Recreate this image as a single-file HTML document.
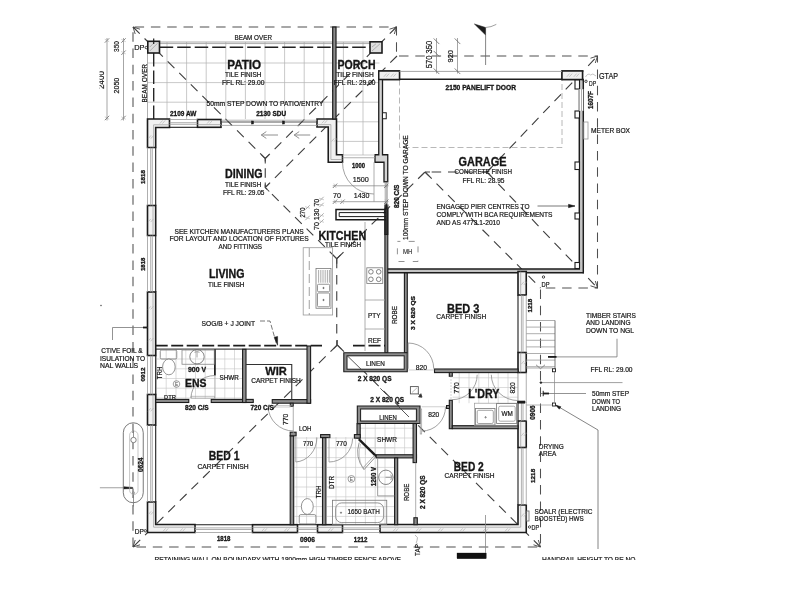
<!DOCTYPE html>
<html><head><meta charset="utf-8"><title>Floor plan</title>
<style>
html,body{margin:0;padding:0;background:#fff;}
body{width:800px;height:600px;overflow:hidden;position:relative;}
svg{position:absolute;left:0;top:0;display:block;}
svg text{font-family:"Liberation Sans",sans-serif;}
</style></head><body>
<svg width="800" height="600" viewBox="0 0 800 600">
<defs><clipPath id="cp"><rect x="99.5" y="0" width="700" height="559.9"/></clipPath></defs>
<rect x="0" y="0" width="800" height="600" fill="#fff"/>
<g clip-path="url(#cp)" style="filter:blur(0.45px)">
<path d="M167.0 42V119M186.6 42V119M206.2 42V119M225.8 42V119M245.4 42V119M265.0 42V119M284.6 42V119M304.2 42V119M323.8 42V119M147.5 43.4H332.5M147.5 63.0H332.5M147.5 82.6H332.5M147.5 102.2H332.5" fill="none" stroke="#b2b2b2" stroke-width="0.7" />
<path d="M343.4 42V155M363.0 42V155M336 43.4H379.5M336 63.0H379.5M336 82.6H379.5M336 102.2H379.5M336 121.8H379.5M336 141.4H379.5" fill="none" stroke="#b2b2b2" stroke-width="0.7" />
<line x1="147.5" y1="42" x2="379.5" y2="42" stroke="#9a9a9a" stroke-width="0.8" />
<line x1="159.5" y1="43.6" x2="370" y2="43.6" stroke="#9a9a9a" stroke-width="0.6" />
<line x1="147.5" y1="53" x2="147.5" y2="119" stroke="#9a9a9a" stroke-width="0.8" />
<path d="M156.5 349.5V398.75M166.2 349.5V398.75M176.0 349.5V398.75M185.8 349.5V398.75M195.5 349.5V398.75M205.2 349.5V398.75M215.0 349.5V398.75M224.8 349.5V398.75M234.5 349.5V398.75M155.7 359.0H243.5M155.7 368.8H243.5M155.7 378.5H243.5M155.7 388.2H243.5M155.7 398.0H243.5" fill="none" stroke="#c4c4c4" stroke-width="0.6" />
<path d="M296.8 437V525M306.6 437V525M316.4 437V525M294.5 438.0H322.5M294.5 447.8H322.5M294.5 457.6H322.5M294.5 467.4H322.5M294.5 477.2H322.5M294.5 487.0H322.5M294.5 496.8H322.5M294.5 506.6H322.5M294.5 516.4H322.5" fill="none" stroke="#c4c4c4" stroke-width="0.6" />
<path d="M336.0 437V525M345.8 437V525M355.6 437V525M365.4 437V525M375.2 437V525M385.0 437V525M327 438.0H394.5M327 447.8H394.5M327 457.6H394.5M327 467.4H394.5M327 477.2H394.5M327 487.0H394.5M327 496.8H394.5M327 506.6H394.5M327 516.4H394.5" fill="none" stroke="#c4c4c4" stroke-width="0.6" />
<path d="M365.4 423.75V454.75M375.2 423.75V454.75M385.0 423.75V454.75M394.8 423.75V454.75M404.6 423.75V454.75M360.2 438.0H413.1M360.2 447.8H413.1M360.2 428.2H413.1" fill="none" stroke="#c4c4c4" stroke-width="0.6" />
<path d="M459.2 372.5V403.2M469.0 372.5V403.2M478.8 372.5V403.2M488.5 372.5V403.2M498.2 372.5V403.2M508.0 372.5V403.2M517.8 372.5V403.2M452.5 377.8H518M452.5 387.5H518M452.5 397.2H518" fill="none" stroke="#c4c4c4" stroke-width="0.6" />
<path d="M133 547V27H396.5V56H597.5V288H540.5V547H133" fill="none" stroke="#505050" stroke-width="1.05" stroke-dasharray="9.5 6.8"/>
<path d="M133 27L265.25 158.5M396.5 27L265.25 158.5V187.5M397 56L265.25 187.5L336.75 258.75M336.75 258.75L425 172H487M487 172L597.5 56M487 172L597.5 288M425 172L540.5 288M336.75 258.75V345M337.25 345L133 547M337.25 345L540.5 547" fill="none" stroke="#3d3d3d" stroke-width="1.1" stroke-dasharray="9.5 6.8"/>
<path d="M265.25 158.5l-4 -4M265.25 158.5l4 -4M265.25 158.5v5M265.25 187.5v-5M265.25 187.5l4 -4M265.25 187.5l4 4M336.75 258.75l-4 -4M336.75 258.75l4 -4M336.75 258.75v5M337.25 345v-5M337.25 345l-4 4M337.25 345l4 4M425 172l-4 4M425 172l4 4M425 172h5M487 172h-5M487 172l4 -4M487 172l4 4" fill="none" stroke="#444" stroke-width="1.05" />
<path d="M133 27l7 2.2M133 27l2.2 7M396.5 27l-7 2.2M396.5 27l-2.2 7M133 547l7 -2.2M133 547l2.2 -7M540.5 547l-7 -2.2M540.5 547l-2.2 -7M597.5 56l-7 2.2M597.5 56l-2.2 7M597.5 288l-7 -2.2M597.5 288l-2.2 -7" fill="none" stroke="#444" stroke-width="0.9" />
<path d="M153.7 53V119M159.7 47.2H370" fill="none" stroke="#222" stroke-width="1.35" stroke-dasharray="13.5 4"/>
<path d="M399.5 79.5V147.5H562V79.5" fill="none" stroke="#b0b0b0" stroke-width="0.9" stroke-dasharray="6 3"/>
<path d="M147.5 119H169.5V127.5H155.7V147.5H147.5Z" fill="#f1f1f1" stroke="#1c1c1c" stroke-width="1.6" />
<path d="M169.5 124.8H153.6V147.5" fill="none" stroke="#9a9a9a" stroke-width="0.7" />
<path d="M159.8 123.6L162.6 120.4M162.4 123.6L165.2 120.4" fill="none" stroke="#aaa" stroke-width="0.6" />
<path d="M148.3 138.6L151.1 135.4M150.9 138.6L153.7 135.4" fill="none" stroke="#aaa" stroke-width="0.6" />
<rect x="147.5" y="205.5" width="8.2" height="30.0" fill="#f1f1f1" stroke="#1c1c1c" stroke-width="1.6" />
<line x1="153.0" y1="205.5" x2="153.0" y2="235.5" stroke="#9a9a9a" stroke-width="0.7" />
<path d="M148.05 222.1L150.85 218.9M150.65 222.1L153.45 218.9" fill="none" stroke="#aaa" stroke-width="0.6" />
<rect x="147.5" y="292" width="8.2" height="63.5" fill="#f1f1f1" stroke="#1c1c1c" stroke-width="1.6" />
<line x1="153.0" y1="292" x2="153.0" y2="355.5" stroke="#9a9a9a" stroke-width="0.7" />
<path d="M148.05 309.475L150.85 306.275M150.65 309.475L153.45 306.275" fill="none" stroke="#aaa" stroke-width="0.6" />
<path d="M148.05 341.225L150.85 338.025M150.65 341.225L153.45 338.025" fill="none" stroke="#aaa" stroke-width="0.6" />
<rect x="147.5" y="394.5" width="8.2" height="30.5" fill="#f1f1f1" stroke="#1c1c1c" stroke-width="1.6" />
<line x1="153.0" y1="394.5" x2="153.0" y2="425" stroke="#9a9a9a" stroke-width="0.7" />
<path d="M148.05 411.35L150.85 408.15M150.65 411.35L153.45 408.15" fill="none" stroke="#aaa" stroke-width="0.6" />
<path d="M147.5 502H155.7V524.5H195V532.5H147.5Z" fill="#f1f1f1" stroke="#1c1c1c" stroke-width="1.6" />
<path d="M153.6 502V527.2H195" fill="none" stroke="#9a9a9a" stroke-width="0.7" />
<path d="M148.3 514.6L151.1 511.4M150.9 514.6L153.7 511.4" fill="none" stroke="#aaa" stroke-width="0.6" />
<path d="M162.8 531.6L165.6 528.4M165.4 531.6L168.2 528.4" fill="none" stroke="#aaa" stroke-width="0.6" />
<path d="M179.8 531.6L182.6 528.4M182.4 531.6L185.2 528.4" fill="none" stroke="#aaa" stroke-width="0.6" />
<line x1="147.5" y1="147.5" x2="147.5" y2="205.5" stroke="#9a9a9a" stroke-width="0.8" />
<line x1="150.7" y1="147.5" x2="150.7" y2="205.5" stroke="#9a9a9a" stroke-width="0.8" />
<line x1="152.3" y1="147.5" x2="152.3" y2="205.5" stroke="#9a9a9a" stroke-width="0.8" />
<line x1="155.7" y1="147.5" x2="155.7" y2="205.5" stroke="#1c1c1c" stroke-width="1.1" />
<line x1="147.5" y1="235.5" x2="147.5" y2="292" stroke="#9a9a9a" stroke-width="0.8" />
<line x1="150.7" y1="235.5" x2="150.7" y2="292" stroke="#9a9a9a" stroke-width="0.8" />
<line x1="152.3" y1="235.5" x2="152.3" y2="292" stroke="#9a9a9a" stroke-width="0.8" />
<line x1="155.7" y1="235.5" x2="155.7" y2="292" stroke="#1c1c1c" stroke-width="1.1" />
<line x1="147.5" y1="355.5" x2="147.5" y2="394.5" stroke="#9a9a9a" stroke-width="0.8" />
<line x1="150.7" y1="355.5" x2="150.7" y2="394.5" stroke="#9a9a9a" stroke-width="0.8" />
<line x1="152.3" y1="355.5" x2="152.3" y2="394.5" stroke="#9a9a9a" stroke-width="0.8" />
<line x1="155.7" y1="355.5" x2="155.7" y2="394.5" stroke="#1c1c1c" stroke-width="1.1" />
<line x1="147.5" y1="425" x2="147.5" y2="502" stroke="#9a9a9a" stroke-width="0.8" />
<line x1="150.7" y1="425" x2="150.7" y2="502" stroke="#9a9a9a" stroke-width="0.8" />
<line x1="152.3" y1="425" x2="152.3" y2="502" stroke="#9a9a9a" stroke-width="0.8" />
<line x1="155.7" y1="425" x2="155.7" y2="502" stroke="#1c1c1c" stroke-width="1.1" />
<rect x="197.5" y="119.5" width="23.5" height="7.8" fill="#f1f1f1" stroke="#1c1c1c" stroke-width="1.6" />
<line x1="197.5" y1="124.6" x2="221" y2="124.6" stroke="#9a9a9a" stroke-width="0.7" />
<path d="M207.05 123.65L209.85 120.45000000000002M209.65 123.65L212.45 120.45000000000002" fill="none" stroke="#aaa" stroke-width="0.6" />
<path d="M317 119H336.5V154.75H342.5V162.25H328.25V127H317Z" fill="#f1f1f1" stroke="#1c1c1c" stroke-width="1.6" />
<path d="M317 124.6H330.9V159.5H342.5" fill="none" stroke="#9a9a9a" stroke-width="0.7" />
<path d="M321.8 123.39999999999999L324.6 120.2M324.4 123.39999999999999L327.2 120.2" fill="none" stroke="#aaa" stroke-width="0.6" />
<path d="M331.5 141.6L334.3 138.4M334.09999999999997 141.6L336.9 138.4" fill="none" stroke="#aaa" stroke-width="0.6" />
<line x1="169.5" y1="119.5" x2="197.5" y2="119.5" stroke="#9a9a9a" stroke-width="0.8" />
<line x1="169.5" y1="122.7" x2="197.5" y2="122.7" stroke="#9a9a9a" stroke-width="0.8" />
<line x1="169.5" y1="124.3" x2="197.5" y2="124.3" stroke="#9a9a9a" stroke-width="0.8" />
<line x1="169.5" y1="127.3" x2="197.5" y2="127.3" stroke="#1c1c1c" stroke-width="1.1" />
<line x1="221" y1="120.2" x2="317" y2="120.2" stroke="#9a9a9a" stroke-width="0.7" />
<line x1="221" y1="122" x2="317" y2="122" stroke="#444" stroke-width="0.9" />
<line x1="221" y1="125.4" x2="317" y2="125.4" stroke="#9a9a9a" stroke-width="0.8" />
<rect x="251.5" y="121" width="2.0" height="3" fill="#1c1c1c" stroke="#1c1c1c" stroke-width="0.5" />
<rect x="282.5" y="121" width="2.0" height="3" fill="#1c1c1c" stroke="#1c1c1c" stroke-width="0.5" />
<path d="M261.3 135H278M261.3 135L266.3 131.6M261.3 135L266.3 138.4M294.2 135H310.2M294.2 135L299.2 131.6M294.2 135L299.2 138.4" fill="none" stroke="#858585" stroke-width="0.9" />
<rect x="332.7" y="27" width="3.3" height="92" fill="#8c8c8c" stroke="#1c1c1c" stroke-width="1.2" />
<rect x="147.8" y="41.3" width="11.7" height="11.7" fill="#dedede" stroke="#1c1c1c" stroke-width="1.6" />
<path d="M149.8 51L157.5 43.3M149.8 47L153.5 43.3" fill="none" stroke="#9a9a9a" stroke-width="0.7" />
<rect x="370" y="41.8" width="12" height="11.2" fill="#dedede" stroke="#1c1c1c" stroke-width="1.6" />
<path d="M372 51L380 43.8M372 47L376 43.8" fill="none" stroke="#9a9a9a" stroke-width="0.7" />
<line x1="153.7" y1="38.5" x2="153.7" y2="44" stroke="#1c1c1c" stroke-width="1.2" />
<path d="M378.75 71H399.5V79.5H382.5V154.75H387.75V181.75H384V162.25H375V154.75H378.75Z" fill="#d4d4d4" stroke="#1c1c1c" stroke-width="1.3" />
<line x1="342.5" y1="157.75" x2="375" y2="157.75" stroke="#9a9a9a" stroke-width="0.8" />
<line x1="342.5" y1="155" x2="375" y2="155" stroke="#b2b2b2" stroke-width="0.7" />
<rect x="382.5" y="112.75" width="3.75" height="6.0" fill="#fff" stroke="#1c1c1c" stroke-width="1" />
<path d="M562 71H582.5V79.5H583.3V272.7H386.5V268.9H579.3V79.5H562Z" fill="#c4c4c4" stroke="#1c1c1c" stroke-width="1.45" />
<rect x="378.75" y="71" width="20.75" height="8.5" fill="#f1f1f1" stroke="#1c1c1c" stroke-width="1.5" />
<path d="M383.8 76.8L386.6 73.60000000000001M386.4 76.8L389.2 73.60000000000001" fill="none" stroke="#aaa" stroke-width="0.6" />
<path d="M390.8 76.8L393.6 73.60000000000001M393.4 76.8L396.2 73.60000000000001" fill="none" stroke="#aaa" stroke-width="0.6" />
<rect x="562" y="71" width="20.5" height="8.5" fill="#f1f1f1" stroke="#1c1c1c" stroke-width="1.5" />
<path d="M566.8 76.8L569.6 73.60000000000001M569.4 76.8L572.2 73.60000000000001" fill="none" stroke="#aaa" stroke-width="0.6" />
<path d="M573.8 76.8L576.6 73.60000000000001M576.4 76.8L579.2 73.60000000000001" fill="none" stroke="#aaa" stroke-width="0.6" />
<rect x="575" y="80" width="4.5" height="9" fill="#fff" stroke="#1c1c1c" stroke-width="1.1" />
<rect x="575" y="111" width="4.5" height="7" fill="#fff" stroke="#1c1c1c" stroke-width="1.1" />
<rect x="575" y="162" width="4.5" height="7.5" fill="#fff" stroke="#1c1c1c" stroke-width="1.1" />
<rect x="575" y="213" width="4.5" height="6" fill="#fff" stroke="#1c1c1c" stroke-width="1.1" />
<rect x="575" y="262.5" width="4.5" height="6.0" fill="#fff" stroke="#1c1c1c" stroke-width="1.1" />
<rect x="579" y="89.5" width="5.2" height="21.0" fill="#fff" stroke="#fff" stroke-width="0.5" />
<line x1="579.5" y1="89" x2="579.5" y2="111" stroke="#9a9a9a" stroke-width="0.8" />
<line x1="581.5" y1="89" x2="581.5" y2="111" stroke="#9a9a9a" stroke-width="0.8" />
<line x1="583.5" y1="89" x2="583.5" y2="111" stroke="#555" stroke-width="0.9" />
<line x1="399.5" y1="71.4" x2="562" y2="71.4" stroke="#9a9a9a" stroke-width="0.9" />
<line x1="399.5" y1="79.3" x2="562" y2="79.3" stroke="#1c1c1c" stroke-width="1.6" />
<rect x="583.8" y="122" width="4.2" height="17" fill="none" stroke="#9a9a9a" stroke-width="0.8" />
<rect x="384.9" y="209" width="2.9" height="143.75" fill="#8c8c8c" stroke="#1c1c1c" stroke-width="1.1" />
<rect x="384.9" y="205" width="2.9" height="29.5" fill="#333" stroke="#1c1c1c" stroke-width="1.1" />
<path d="M386 209.5H336V219.7H386" fill="none" stroke="#1c1c1c" stroke-width="1.5" />
<path d="M386 212.6H339.2V216.6H386" fill="none" stroke="#1c1c1c" stroke-width="1.0" />
<line x1="385.2" y1="181.75" x2="385.2" y2="209" stroke="#9a9a9a" stroke-width="0.8" />
<line x1="387.3" y1="181.75" x2="387.3" y2="209" stroke="#9a9a9a" stroke-width="0.8" />
<path d="M386.3 203L384.8 209H387.8Z" fill="#1c1c1c" stroke="#1c1c1c" stroke-width="0.5" />
<rect x="518" y="271.5" width="8.25" height="23.5" fill="#f1f1f1" stroke="#1c1c1c" stroke-width="1.6" />
<line x1="520.7" y1="271.5" x2="520.7" y2="295" stroke="#9a9a9a" stroke-width="0.7" />
<path d="M521.275 284.85L524.075 281.65M523.875 284.85L526.6750000000001 281.65" fill="none" stroke="#aaa" stroke-width="0.6" />
<rect x="518" y="352.5" width="8.25" height="20.0" fill="#f1f1f1" stroke="#1c1c1c" stroke-width="1.6" />
<line x1="520.7" y1="352.5" x2="520.7" y2="372.5" stroke="#9a9a9a" stroke-width="0.7" />
<path d="M521.275 364.1L524.075 360.9M523.875 364.1L526.6750000000001 360.9" fill="none" stroke="#aaa" stroke-width="0.6" />
<rect x="518" y="421" width="8.25" height="26.5" fill="#f1f1f1" stroke="#1c1c1c" stroke-width="1.6" />
<line x1="520.7" y1="421" x2="520.7" y2="447.5" stroke="#9a9a9a" stroke-width="0.7" />
<path d="M521.275 435.85L524.075 432.65M523.875 435.85L526.6750000000001 432.65" fill="none" stroke="#aaa" stroke-width="0.6" />
<path d="M518 505H526.25V532.5H380V524.5H518Z" fill="#f1f1f1" stroke="#1c1c1c" stroke-width="1.6" />
<path d="M520.7 505V527.2H380" fill="none" stroke="#9a9a9a" stroke-width="0.7" />
<path d="M521.3 516.6L524.1 513.4M523.9 516.6L526.7 513.4" fill="none" stroke="#aaa" stroke-width="0.6" />
<path d="M392.8 531.6L395.6 528.4M395.4 531.6L398.2 528.4" fill="none" stroke="#aaa" stroke-width="0.6" />
<path d="M415.8 531.6L418.6 528.4M418.4 531.6L421.2 528.4" fill="none" stroke="#aaa" stroke-width="0.6" />
<path d="M437.8 531.6L440.6 528.4M440.4 531.6L443.2 528.4" fill="none" stroke="#aaa" stroke-width="0.6" />
<path d="M459.8 531.6L462.6 528.4M462.4 531.6L465.2 528.4" fill="none" stroke="#aaa" stroke-width="0.6" />
<path d="M482.8 531.6L485.6 528.4M485.4 531.6L488.2 528.4" fill="none" stroke="#aaa" stroke-width="0.6" />
<path d="M504.8 531.6L507.6 528.4M507.4 531.6L510.2 528.4" fill="none" stroke="#aaa" stroke-width="0.6" />
<line x1="518" y1="295" x2="518" y2="352.5" stroke="#1c1c1c" stroke-width="1.1" />
<line x1="521.4" y1="295" x2="521.4" y2="352.5" stroke="#9a9a9a" stroke-width="0.8" />
<line x1="523" y1="295" x2="523" y2="352.5" stroke="#9a9a9a" stroke-width="0.8" />
<line x1="526.25" y1="295" x2="526.25" y2="352.5" stroke="#9a9a9a" stroke-width="0.8" />
<line x1="518" y1="447.5" x2="518" y2="505" stroke="#1c1c1c" stroke-width="1.1" />
<line x1="521.4" y1="447.5" x2="521.4" y2="505" stroke="#9a9a9a" stroke-width="0.8" />
<line x1="523" y1="447.5" x2="523" y2="505" stroke="#9a9a9a" stroke-width="0.8" />
<line x1="526.25" y1="447.5" x2="526.25" y2="505" stroke="#9a9a9a" stroke-width="0.8" />
<line x1="518" y1="402" x2="518" y2="421.2" stroke="#1c1c1c" stroke-width="1.1" />
<line x1="521.4" y1="402" x2="521.4" y2="421.2" stroke="#9a9a9a" stroke-width="0.8" />
<line x1="523" y1="402" x2="523" y2="421.2" stroke="#9a9a9a" stroke-width="0.8" />
<line x1="526.25" y1="402" x2="526.25" y2="421.2" stroke="#9a9a9a" stroke-width="0.8" />
<line x1="518" y1="372.5" x2="518" y2="403" stroke="#9a9a9a" stroke-width="0.8" />
<line x1="526.25" y1="372.5" x2="526.25" y2="403" stroke="#9a9a9a" stroke-width="0.8" />
<path d="M517.5 401H525V403.2H517.5Z" fill="#1c1c1c" stroke="#1c1c1c" stroke-width="0.6" />
<rect x="252.5" y="524.7" width="45.0" height="7.8" fill="#f1f1f1" stroke="#1c1c1c" stroke-width="1.6" />
<line x1="252.5" y1="527.4000000000001" x2="297.5" y2="527.4000000000001" stroke="#9a9a9a" stroke-width="0.7" />
<path d="M261.55 531.5500000000001L264.35 528.35M264.15 531.5500000000001L266.95 528.35" fill="none" stroke="#aaa" stroke-width="0.6" />
<path d="M284.05 531.5500000000001L286.85 528.35M286.65 531.5500000000001L289.45 528.35" fill="none" stroke="#aaa" stroke-width="0.6" />
<rect x="317.5" y="524.7" width="25.0" height="7.8" fill="#f1f1f1" stroke="#1c1c1c" stroke-width="1.6" />
<line x1="317.5" y1="527.4000000000001" x2="342.5" y2="527.4000000000001" stroke="#9a9a9a" stroke-width="0.7" />
<path d="M327.8 531.5500000000001L330.6 528.35M330.4 531.5500000000001L333.2 528.35" fill="none" stroke="#aaa" stroke-width="0.6" />
<line x1="195" y1="524.7" x2="252.5" y2="524.7" stroke="#1c1c1c" stroke-width="1.1" />
<line x1="195" y1="527.9000000000001" x2="252.5" y2="527.9000000000001" stroke="#9a9a9a" stroke-width="0.8" />
<line x1="195" y1="529.5" x2="252.5" y2="529.5" stroke="#9a9a9a" stroke-width="0.8" />
<line x1="195" y1="532.5" x2="252.5" y2="532.5" stroke="#9a9a9a" stroke-width="0.8" />
<line x1="297.5" y1="524.7" x2="317.5" y2="524.7" stroke="#1c1c1c" stroke-width="1.1" />
<line x1="297.5" y1="527.9000000000001" x2="317.5" y2="527.9000000000001" stroke="#9a9a9a" stroke-width="0.8" />
<line x1="297.5" y1="529.5" x2="317.5" y2="529.5" stroke="#9a9a9a" stroke-width="0.8" />
<line x1="297.5" y1="532.5" x2="317.5" y2="532.5" stroke="#9a9a9a" stroke-width="0.8" />
<line x1="342.5" y1="524.7" x2="380" y2="524.7" stroke="#1c1c1c" stroke-width="1.1" />
<line x1="342.5" y1="527.9000000000001" x2="380" y2="527.9000000000001" stroke="#9a9a9a" stroke-width="0.8" />
<line x1="342.5" y1="529.5" x2="380" y2="529.5" stroke="#9a9a9a" stroke-width="0.8" />
<line x1="342.5" y1="532.5" x2="380" y2="532.5" stroke="#9a9a9a" stroke-width="0.8" />
<line x1="155.7" y1="349.1" x2="307" y2="349.1" stroke="#1c1c1c" stroke-width="1.0" />
<line x1="155.7" y1="345.7" x2="322" y2="345.7" stroke="#1c1c1c" stroke-width="1.7" stroke-dasharray="12 3.5"/>
<line x1="353" y1="345.7" x2="385" y2="345.7" stroke="#1c1c1c" stroke-width="1.7" stroke-dasharray="12 3.5"/>
<rect x="155.7" y="399.4" width="33.05" height="3.1" fill="#8c8c8c" stroke="#1c1c1c" stroke-width="1.1" />
<rect x="211.25" y="399.4" width="42.0" height="3.1" fill="#8c8c8c" stroke="#1c1c1c" stroke-width="1.1" />
<rect x="272.25" y="399.6" width="38.35" height="3.6" fill="#8c8c8c" stroke="#1c1c1c" stroke-width="1.1" />
<rect x="290.25" y="403.2" width="3.0" height="3.05" fill="#8c8c8c" stroke="#1c1c1c" stroke-width="1" />
<line x1="214.9" y1="349.3" x2="214.9" y2="375.5" stroke="#1c1c1c" stroke-width="1.7" />
<line x1="214.9" y1="375.5" x2="214.9" y2="399" stroke="#aaa" stroke-width="0.7" />
<rect x="242.6" y="349.3" width="3.4" height="53.2" fill="#8c8c8c" stroke="#1c1c1c" stroke-width="1.1" />
<rect x="307" y="346" width="3.6" height="57.2" fill="#8c8c8c" stroke="#1c1c1c" stroke-width="1.1" />
<path d="M246 364.5H291.75V399.6" fill="none" stroke="#333" stroke-width="1.1" />
<rect x="290.2" y="435.8" width="3.5" height="88.9" fill="#8c8c8c" stroke="#1c1c1c" stroke-width="1.1" />
<rect x="290.2" y="432.2" width="5.9" height="3.6" fill="#8c8c8c" stroke="#1c1c1c" stroke-width="1.1" />
<rect x="322.5" y="437.6" width="3.4" height="87.1" fill="#8c8c8c" stroke="#1c1c1c" stroke-width="1.1" />
<rect x="320.6" y="434.6" width="9.3" height="3.0" fill="#8c8c8c" stroke="#1c1c1c" stroke-width="1.1" />
<rect x="404.4" y="273" width="2.9" height="79.75" fill="#8c8c8c" stroke="#1c1c1c" stroke-width="1.1" />
<path d="M343.8 352.75H407.25V371.8H343.8Z" fill="#8c8c8c" stroke="#1c1c1c" stroke-width="1.1" />
<rect x="347" y="355.8" width="57.2" height="13.4" fill="#fff" stroke="#1c1c1c" stroke-width="1.0" />
<path d="M357.3 406H420V423.5H357.3Z" fill="#8c8c8c" stroke="#1c1c1c" stroke-width="1.1" />
<rect x="360.6" y="409" width="55.8" height="12" fill="#fff" stroke="#1c1c1c" stroke-width="1.0" />
<rect x="357" y="423.75" width="3.2" height="14.25" fill="#8c8c8c" stroke="#1c1c1c" stroke-width="1.1" />
<path d="M358.8 439.2L376.6 456.6" fill="none" stroke="#1c1c1c" stroke-width="2.4" />
<rect x="376.25" y="454.75" width="40.25" height="3.15" fill="#8c8c8c" stroke="#1c1c1c" stroke-width="1.1" />
<rect x="354.4" y="434.6" width="5.8" height="3.5" fill="#8c8c8c" stroke="#1c1c1c" stroke-width="1.1" />
<rect x="413.1" y="423.5" width="3.4" height="39.1" fill="#8c8c8c" stroke="#1c1c1c" stroke-width="1.1" />
<rect x="394.6" y="457.9" width="3.1" height="66.8" fill="#8c8c8c" stroke="#1c1c1c" stroke-width="1.1" />
<line x1="415.7" y1="462.6" x2="415.7" y2="517.75" stroke="#9a9a9a" stroke-width="0.8" />
<rect x="413.9" y="517.75" width="3.4" height="6.95" fill="#8c8c8c" stroke="#1c1c1c" stroke-width="1.1" />
<rect x="434.5" y="369" width="83.5" height="3.6" fill="#8c8c8c" stroke="#1c1c1c" stroke-width="1.1" />
<rect x="449.3" y="372.5" width="3.0" height="3.75" fill="#8c8c8c" stroke="#1c1c1c" stroke-width="1.1" />
<rect x="449.3" y="400.25" width="3.0" height="28.45" fill="#8c8c8c" stroke="#1c1c1c" stroke-width="1.1" />
<rect x="446.5" y="405.5" width="3.0" height="3.0" fill="#8c8c8c" stroke="#1c1c1c" stroke-width="1" />
<rect x="452.3" y="425.7" width="65.7" height="3.0" fill="#8c8c8c" stroke="#1c1c1c" stroke-width="1.1" />
<rect x="303.2" y="247.7" width="29.4" height="67.3" fill="none" stroke="#9a9a9a" stroke-width="0.8" />
<line x1="309.25" y1="248" x2="309.25" y2="315" stroke="#8a8a8a" stroke-width="0.8" stroke-dasharray="9 4"/>
<rect x="316" y="268.5" width="15" height="39.75" fill="none" stroke="#7a7a7a" stroke-width="0.8" />
<rect x="317.5" y="284.25" width="12.1" height="7.5" fill="none" stroke="#7a7a7a" stroke-width="0.8" rx="1"/>
<rect x="317.5" y="293" width="12.1" height="13.75" fill="none" stroke="#7a7a7a" stroke-width="0.8" rx="1"/>
<path d="M318.6 270V282.75M320.8 270V282.75M323 270V282.75M325.2 270V282.75M327.4 270V282.75M329.4 270V282.75" fill="none" stroke="#8a8a8a" stroke-width="0.7" />
<circle cx="323.5" cy="288" r="0.6" fill="none" stroke="#555" stroke-width="1"/>
<circle cx="323.5" cy="300" r="0.6" fill="none" stroke="#555" stroke-width="1"/>
<line x1="365" y1="222" x2="365" y2="351" stroke="#9a9a9a" stroke-width="0.8" />
<line x1="365" y1="300" x2="385" y2="300" stroke="#9a9a9a" stroke-width="0.8" />
<line x1="365" y1="329" x2="385" y2="329" stroke="#9a9a9a" stroke-width="0.8" />
<rect x="366.8" y="267.8" width="15.95" height="15.7" fill="none" stroke="#7a7a7a" stroke-width="0.8" />
<circle cx="370.9" cy="271.8" r="2.3" fill="none" stroke="#666" stroke-width="0.8"/>
<circle cx="378.7" cy="271.8" r="2.3" fill="none" stroke="#666" stroke-width="0.8"/>
<circle cx="370.9" cy="279.3" r="2.3" fill="none" stroke="#666" stroke-width="0.8"/>
<circle cx="378.7" cy="279.3" r="2.3" fill="none" stroke="#666" stroke-width="0.8"/>
<rect x="397.4" y="241.4" width="20.6" height="20.1" fill="none" stroke="#858585" stroke-width="0.9" stroke-dasharray="6 8.3" stroke-dashoffset="3"/>
<rect x="160.25" y="350" width="16.5" height="9" fill="none" stroke="#777" stroke-width="0.8" rx="1.5"/>
<ellipse cx="168.9" cy="366.9" rx="6.3" ry="7.9" fill="#fff" stroke="#777" stroke-width="0.8"/>
<rect x="182" y="350" width="32.25" height="14.25" fill="none" stroke="#888" stroke-width="0.8" />
<circle cx="197" cy="356.75" r="7.2" fill="none" stroke="#666" stroke-width="0.8"/>
<path d="M194.5 352.3Q197 350.8 199.5 352.3M197 352V357.5" fill="none" stroke="#777" stroke-width="0.7" />
<circle cx="176.5" cy="384" r="3.3" fill="none" stroke="#777" stroke-width="0.7"/>
<text x="174.9" y="385.8" font-size="4.8" fill="#555">E</text>
<path d="M215 375.5A24 22.5 0 0 0 191 398" fill="none" stroke="#8a8a8a" stroke-width="0.8" />
<rect x="191" y="396.2" width="23.5" height="2.0" fill="none" stroke="#9a9a9a" stroke-width="0.6" />
<path d="M268 406.5A25.5 25.5 0 0 0 293.25 431" fill="none" stroke="#8a8a8a" stroke-width="0.8" />
<line x1="293.25" y1="406.25" x2="293.25" y2="434" stroke="#9a9a9a" stroke-width="0.8" />
<rect x="273.75" y="405.3" width="16.5" height="1.7" fill="none" stroke="#aaa" stroke-width="0.6" />
<rect x="299.25" y="514.6" width="16.65" height="9.3" fill="none" stroke="#777" stroke-width="0.8" rx="1.5"/>
<ellipse cx="307.3" cy="506.5" rx="5.95" ry="7.9" fill="#fff" stroke="#777" stroke-width="0.8"/>
<path d="M295.75 462A22.5 24.4 0 0 0 316.9 437.6" fill="none" stroke="#8a8a8a" stroke-width="0.8" />
<line x1="295.75" y1="436" x2="295.75" y2="462" stroke="#9a9a9a" stroke-width="0.8" />
<path d="M329 462A23.6 24 0 0 0 352.6 438.5" fill="none" stroke="#8a8a8a" stroke-width="0.8" />
<line x1="329" y1="437.6" x2="329" y2="462" stroke="#9a9a9a" stroke-width="0.8" />
<rect x="332.5" y="500.25" width="54.25" height="24.25" fill="none" stroke="#777" stroke-width="0.8" />
<rect x="335.65" y="502.9" width="47.95" height="19.7" fill="none" stroke="#777" stroke-width="0.8" rx="6"/>
<circle cx="341" cy="512.7" r="0.6" fill="none" stroke="#666" stroke-width="1"/>
<path d="M394.5 495.9H377.65V458.25" fill="none" stroke="#888" stroke-width="0.8" />
<circle cx="385.9" cy="477.3" r="7.2" fill="none" stroke="#666" stroke-width="0.8"/>
<path d="M385.5 477.3H391M390.8 474.5Q392.3 477.3 390.8 480" fill="none" stroke="#777" stroke-width="0.7" />
<circle cx="351.4" cy="478.9" r="3.4" fill="none" stroke="#777" stroke-width="0.7"/>
<text x="349.8" y="480.7" font-size="4.8" fill="#555">E</text>
<path d="M359.2 442.5Q354.5 457 364 469.6L375.9 456.5" fill="none" stroke="#777" stroke-width="0.8" />
<path d="M362.7 468.2L374.5 455.3" fill="none" stroke="#888" stroke-width="0.7" />
<path d="M360.6 444Q357 456 362.7 468.2" fill="none" stroke="#aaa" stroke-width="0.6" />
<rect x="474.5" y="403.2" width="42.5" height="22.3" fill="none" stroke="#9a9a9a" stroke-width="0.7" />
<rect x="475.5" y="408.5" width="19.5" height="16.5" fill="none" stroke="#777" stroke-width="0.8" />
<rect x="477.2" y="410.3" width="16.1" height="13.2" fill="none" stroke="#8a8a8a" stroke-width="0.8" rx="1.5"/>
<circle cx="485.6" cy="417.3" r="0.6" fill="none" stroke="#666" stroke-width="1"/>
<rect x="496.6" y="403.4" width="20.1" height="20.1" fill="none" stroke="#777" stroke-width="0.8" />
<rect x="498.7" y="406.2" width="16.5" height="15.0" fill="none" stroke="#8a8a8a" stroke-width="0.7" rx="1.5"/>
<path d="M477.2 374.75A25 25 0 0 1 452.2 399.7" fill="none" stroke="#8a8a8a" stroke-width="0.8" />
<line x1="451" y1="376.25" x2="451" y2="400.25" stroke="#aaa" stroke-width="0.7" stroke-dasharray="1.5 1.5"/>
<path d="M491.3 374.75A27 26 0 0 0 518.2 400.6" fill="none" stroke="#8a8a8a" stroke-width="0.8" />
<path d="M408 343A25.75 25.75 0 0 1 433.75 368.75" fill="none" stroke="#8a8a8a" stroke-width="0.8" />
<line x1="408.3" y1="343" x2="408.3" y2="368.75" stroke="#9a9a9a" stroke-width="0.8" />
<path d="M445.5 406.75A23.5 24 0 0 1 422 431" fill="none" stroke="#8a8a8a" stroke-width="0.8" />
<rect x="420.2" y="409" width="1.5" height="25" fill="none" stroke="#9a9a9a" stroke-width="0.7" />
<line x1="421.7" y1="406.75" x2="445.5" y2="406.75" stroke="#bbb" stroke-width="0.7" />
<line x1="408.3" y1="370" x2="434.25" y2="370" stroke="#bbb" stroke-width="0.7" />
<rect x="410.4" y="386.6" width="7.9" height="7.3" fill="none" stroke="#555" stroke-width="0.9" />
<path d="M412 392.5L417 387.8" fill="none" stroke="#888" stroke-width="0.6" />
<path d="M418.3 393.9L420 395.3M422 397.2L418.6 396.9L420.9 393.7Z" fill="#333" stroke="#333" stroke-width="0.8" />
<path d="M342.5 162.25A31.5 31.5 0 0 0 374 194" fill="none" stroke="#8a8a8a" stroke-width="0.8" />
<path d="M374 162.25V201.7" fill="none" stroke="#9a9a9a" stroke-width="0.8" />
<path d="M347 355.5L362.2 370.3M380.3 388.3L386.5 394.5M397 405L409 417" fill="none" stroke="#444" stroke-width="0.9" />
<path d="M526.25 320.5H555M526.25 327.1H555M526.25 333.7H555M526.25 340.3H555M526.25 346.9H555M526.25 353.5H555M526.25 360.1H555M526.25 366.7H555" fill="none" stroke="#9a9a9a" stroke-width="0.8" />
<line x1="555" y1="320.5" x2="555" y2="368.75" stroke="#666" stroke-width="0.9" />
<line x1="526.25" y1="368" x2="552.5" y2="368" stroke="#9a9a9a" stroke-width="0.8" />
<path d="M536 364.8L540.5 368.7L545 364.8" fill="none" stroke="#777" stroke-width="0.8" />
<rect x="552.5" y="368.75" width="3.0" height="3.0" fill="none" stroke="#1c1c1c" stroke-width="0.9" />
<rect x="552.5" y="403" width="3.0" height="3" fill="none" stroke="#1c1c1c" stroke-width="0.9" />
<line x1="554.5" y1="371.75" x2="554.5" y2="403" stroke="#888" stroke-width="0.7" />
<line x1="526.25" y1="405" x2="552.5" y2="405" stroke="#9a9a9a" stroke-width="0.7" />
<path d="M617 338.75V356.9H550" fill="none" stroke="#777" stroke-width="0.8" />
<line x1="548" y1="356.9" x2="556.5" y2="356.9" stroke="#1c1c1c" stroke-width="1.8" />
<line x1="541" y1="382.6" x2="622.5" y2="382.6" stroke="#888" stroke-width="0.8" />
<circle cx="540.9" cy="382.6" r="0.8" fill="#1c1c1c" stroke="#1c1c1c" stroke-width="1"/>
<line x1="545" y1="393.5" x2="586" y2="393.5" stroke="#777" stroke-width="0.8" />
<line x1="543" y1="393.5" x2="549" y2="393.5" stroke="#1c1c1c" stroke-width="1.8" />
<line x1="543.2" y1="390.8" x2="543.2" y2="396.2" stroke="#1c1c1c" stroke-width="1" />
<line x1="540.5" y1="393.5" x2="543" y2="393.5" stroke="#666" stroke-width="0.8" />
<path d="M555.5 405L598 430V549" fill="none" stroke="#666" stroke-width="0.8" />
<path d="M555.5 405L561 406.8L559.3 409.2Z" fill="#1c1c1c" stroke="#1c1c1c" stroke-width="0.5" />
<line x1="537.5" y1="206" x2="575" y2="206" stroke="#555" stroke-width="0.8" />
<path d="M575 206L568.5 204.3V207.7Z" fill="#1c1c1c" stroke="#1c1c1c" stroke-width="0.5" />
<path d="M260 321H270L276.5 344" fill="none" stroke="#555" stroke-width="0.8" stroke-dasharray="5 2"/>
<path d="M277.6 345.3L274.2 337.2L277.6 336.4Z" fill="#1c1c1c" stroke="#1c1c1c" stroke-width="0.5" />
<path d="M112.5 340V327.5H147.5" fill="none" stroke="#777" stroke-width="0.8" />
<line x1="143" y1="327.5" x2="147.5" y2="327.5" stroke="#1c1c1c" stroke-width="1.8" />
<circle cx="101" cy="305.5" r="0.5" fill="#777" stroke="#777" stroke-width="1"/>
<line x1="99.75" y1="487.75" x2="124" y2="487.75" stroke="#888" stroke-width="0.8" />
<path d="M123.75 486.7L132.75 487.4V488.4L123.75 488.9Z" fill="#1c1c1c" stroke="#1c1c1c" stroke-width="0.5" />
<rect x="123.3" y="422.75" width="19.95" height="80.0" fill="none" stroke="#6a6a6a" stroke-width="0.9" rx="9.97"/>
<rect x="129.6" y="431" width="8.4" height="63.5" fill="none" stroke="#b0b0b0" stroke-width="0.7" rx="4.2"/>
<circle cx="133.5" cy="440" r="2.7" fill="#fff" stroke="#666" stroke-width="0.8"/>
<path d="M133.5 430.5V437.3" fill="none" stroke="#777" stroke-width="0.8" />
<circle cx="133.5" cy="492.8" r="1.1" fill="none" stroke="#888" stroke-width="0.7"/>
<path d="M133.5 494.5V506.5" fill="none" stroke="#777" stroke-width="0.8" />
<path d="M474.4 24L485.6 27.5V35Z" fill="#1c1c1c" stroke="#1c1c1c" stroke-width="0.5" />
<line x1="485.6" y1="35" x2="485.6" y2="65" stroke="#666" stroke-width="0.8" />
<path d="M485.6 27.5Q491 27.3 496.3 24.4" fill="none" stroke="#777" stroke-width="0.7" />
<circle cx="146.3" cy="47.6" r="1.2" fill="none" stroke="#1c1c1c" stroke-width="0.8"/>
<circle cx="586" cy="81.3" r="1.2" fill="none" stroke="#1c1c1c" stroke-width="0.8"/>
<circle cx="543.5" cy="277" r="1.2" fill="none" stroke="#1c1c1c" stroke-width="0.8"/>
<circle cx="145.3" cy="530.8" r="1.2" fill="none" stroke="#1c1c1c" stroke-width="0.8"/>
<circle cx="529.6" cy="527" r="1.2" fill="none" stroke="#1c1c1c" stroke-width="0.8"/>
<path d="M585.5 77Q588 72.5 590.5 75Q592.5 72.5 596 76" fill="none" stroke="#aaa" stroke-width="0.7" />
<rect x="526.4" y="511" width="2.6" height="10" fill="none" stroke="#666" stroke-width="0.8" />
<path d="M415 535Q419 537.5 417 540.5Q415.5 543 417.5 544" fill="none" stroke="#999" stroke-width="0.7" />
<rect x="457" y="553" width="29.25" height="5.75" fill="#111" stroke="#111" stroke-width="0.3" />
<line x1="485.5" y1="515" x2="485.5" y2="553" stroke="#888" stroke-width="0.8" />
<line x1="107" y1="38" x2="107" y2="120.5" stroke="#808080" stroke-width="0.7" />
<line x1="123.5" y1="38" x2="123.5" y2="120.5" stroke="#808080" stroke-width="0.7" />
<path d="M104.8 42.7L109.2 38.3" fill="none" stroke="#666" stroke-width="0.8" />
<path d="M104.8 39.3L109.2 41.7" fill="none" stroke="#aaa" stroke-width="0.6" />
<path d="M121.3 42.7L125.7 38.3" fill="none" stroke="#666" stroke-width="0.8" />
<path d="M121.3 39.3L125.7 41.7" fill="none" stroke="#aaa" stroke-width="0.6" />
<path d="M121.3 54.900000000000006L125.7 50.5" fill="none" stroke="#666" stroke-width="0.8" />
<path d="M121.3 51.5L125.7 53.900000000000006" fill="none" stroke="#aaa" stroke-width="0.6" />
<path d="M104.8 120.2L109.2 115.8" fill="none" stroke="#666" stroke-width="0.8" />
<path d="M104.8 116.8L109.2 119.2" fill="none" stroke="#aaa" stroke-width="0.6" />
<path d="M121.3 120.2L125.7 115.8" fill="none" stroke="#666" stroke-width="0.8" />
<path d="M121.3 116.8L125.7 119.2" fill="none" stroke="#aaa" stroke-width="0.6" />
<line x1="436.5" y1="38" x2="436.5" y2="73.5" stroke="#808080" stroke-width="0.7" />
<line x1="457.5" y1="38" x2="457.5" y2="73.5" stroke="#808080" stroke-width="0.7" />
<path d="M433.7 38.45L439.3 44.05" fill="none" stroke="#666" stroke-width="0.8" />
<path d="M433.7 50.95L439.3 56.55" fill="none" stroke="#666" stroke-width="0.8" />
<path d="M433.7 68.45L439.3 74.05" fill="none" stroke="#666" stroke-width="0.8" />
<path d="M454.7 38.45L460.3 44.05" fill="none" stroke="#666" stroke-width="0.8" />
<path d="M454.7 68.45L460.3 74.05" fill="none" stroke="#666" stroke-width="0.8" />
<line x1="332.75" y1="185.8" x2="388.5" y2="185.8" stroke="#808080" stroke-width="0.7" />
<line x1="332.75" y1="201.7" x2="388.5" y2="201.7" stroke="#808080" stroke-width="0.7" />
<path d="M332.8 188.0L337.2 183.60000000000002" fill="none" stroke="#666" stroke-width="0.8" />
<path d="M333.8 183.60000000000002L336.2 188.0" fill="none" stroke="#aaa" stroke-width="0.6" />
<path d="M384.1 188.0L388.5 183.60000000000002" fill="none" stroke="#666" stroke-width="0.8" />
<path d="M385.1 183.60000000000002L387.5 188.0" fill="none" stroke="#aaa" stroke-width="0.6" />
<path d="M332.8 203.89999999999998L337.2 199.5" fill="none" stroke="#666" stroke-width="0.8" />
<path d="M333.8 199.5L336.2 203.89999999999998" fill="none" stroke="#aaa" stroke-width="0.6" />
<path d="M384.1 203.89999999999998L388.5 199.5" fill="none" stroke="#666" stroke-width="0.8" />
<path d="M385.1 199.5L387.5 203.89999999999998" fill="none" stroke="#aaa" stroke-width="0.6" />
<path d="M340.3 203.89999999999998L344.7 199.5" fill="none" stroke="#666" stroke-width="0.8" />
<path d="M341.3 199.5L343.7 203.89999999999998" fill="none" stroke="#aaa" stroke-width="0.6" />
<line x1="386.3" y1="181.75" x2="386.3" y2="204" stroke="#808080" stroke-width="0.6" />
<path d="M305.3 209.7L309.7 205.3" fill="none" stroke="#999" stroke-width="0.8" />
<path d="M305.1 206.7L309.9 208.3" fill="none" stroke="#aaa" stroke-width="0.6" />
<path d="M305.3 220.2L309.7 215.8" fill="none" stroke="#999" stroke-width="0.8" />
<path d="M305.1 217.2L309.9 218.8" fill="none" stroke="#aaa" stroke-width="0.6" />
<path d="M319.3 201.2L323.7 196.8" fill="none" stroke="#999" stroke-width="0.8" />
<path d="M319.1 198.2L323.9 199.8" fill="none" stroke="#aaa" stroke-width="0.6" />
<path d="M319.3 207.2L323.7 202.8" fill="none" stroke="#999" stroke-width="0.8" />
<path d="M319.1 204.2L323.9 205.8" fill="none" stroke="#aaa" stroke-width="0.6" />
<path d="M319.3 217.7L323.7 213.3" fill="none" stroke="#999" stroke-width="0.8" />
<path d="M319.1 214.7L323.9 216.3" fill="none" stroke="#aaa" stroke-width="0.6" />
<path d="M319.3 223.7L323.7 219.3" fill="none" stroke="#999" stroke-width="0.8" />
<path d="M319.1 220.7L323.9 222.3" fill="none" stroke="#aaa" stroke-width="0.6" />
<text x="234.5" y="39.5" font-size="6.98" fill="#151515" stroke="#151515" stroke-width="0.2" textLength="37.5" lengthAdjust="spacingAndGlyphs">BEAM OVER</text>
<text x="227.2" y="68.75" font-size="12.22" font-weight="700" fill="#151515" stroke="#151515" stroke-width="0.32" textLength="34.05" lengthAdjust="spacingAndGlyphs">PATIO</text>
<text x="225" y="76.6" font-size="6.42" fill="#151515" stroke="#151515" stroke-width="0.2" textLength="36.5" lengthAdjust="spacingAndGlyphs">TILE FINISH</text>
<text x="222" y="84.6" font-size="6.84" fill="#151515" stroke="#151515" stroke-width="0.2" textLength="42.5" lengthAdjust="spacingAndGlyphs">FFL RL: 29.00</text>
<text x="337.5" y="68.75" font-size="12.22" font-weight="700" fill="#151515" stroke="#151515" stroke-width="0.32" textLength="38.0" lengthAdjust="spacingAndGlyphs">PORCH</text>
<text x="336.25" y="76.6" font-size="6.42" fill="#151515" stroke="#151515" stroke-width="0.2" textLength="37.5" lengthAdjust="spacingAndGlyphs">TILE FINISH</text>
<text x="333.75" y="84.6" font-size="6.84" fill="#151515" stroke="#151515" stroke-width="0.2" textLength="41.75" lengthAdjust="spacingAndGlyphs">FFL RL: 29.00</text>
<text x="206.5" y="105.5" font-size="6.98" fill="#151515" stroke="#151515" stroke-width="0.2" textLength="117.0" lengthAdjust="spacingAndGlyphs">50mm STEP DOWN TO PATIO/ENTRY</text>
<text x="170" y="116.25" font-size="6.98" font-weight="700" fill="#151515" stroke="#151515" stroke-width="0.32" textLength="26.25" lengthAdjust="spacingAndGlyphs">2109 AW</text>
<text x="256.25" y="115.5" font-size="6.98" font-weight="700" fill="#151515" stroke="#151515" stroke-width="0.32" textLength="30.0" lengthAdjust="spacingAndGlyphs">2130 SDU</text>
<text x="225" y="178.2" font-size="11.87" font-weight="700" fill="#151515" stroke="#151515" stroke-width="0.32" textLength="37.5" lengthAdjust="spacingAndGlyphs">DINING</text>
<text x="225" y="186.5" font-size="6.28" fill="#151515" stroke="#151515" stroke-width="0.2" textLength="36.25" lengthAdjust="spacingAndGlyphs">TILE FINISH</text>
<text x="223" y="195" font-size="6.98" fill="#151515" stroke="#151515" stroke-width="0.2" textLength="41.5" lengthAdjust="spacingAndGlyphs">FFL RL: 29.05</text>
<text x="174.5" y="233.9" font-size="6.84" fill="#151515" stroke="#151515" stroke-width="0.2" textLength="129.25" lengthAdjust="spacingAndGlyphs">SEE KITCHEN MANUFACTURERS PLANS</text>
<text x="169.5" y="241.4" font-size="6.84" fill="#151515" stroke="#151515" stroke-width="0.2" textLength="139.25" lengthAdjust="spacingAndGlyphs">FOR LAYOUT AND LOCATION OF FIXTURES</text>
<text x="218.5" y="248.9" font-size="6.84" fill="#151515" stroke="#151515" stroke-width="0.2" textLength="43.5" lengthAdjust="spacingAndGlyphs">AND FITTINGS</text>
<text x="318.5" y="239.7" font-size="12.43" font-weight="700" fill="#151515" stroke="#151515" stroke-width="0.32" textLength="47.75" lengthAdjust="spacingAndGlyphs">KITCHEN</text>
<text x="325" y="246.6" font-size="6.42" fill="#151515" stroke="#151515" stroke-width="0.2" textLength="36" lengthAdjust="spacingAndGlyphs">TILE FINISH</text>
<text x="209" y="278" font-size="11.87" font-weight="700" fill="#151515" stroke="#151515" stroke-width="0.32" textLength="35.5" lengthAdjust="spacingAndGlyphs">LIVING</text>
<text x="208" y="286.6" font-size="6.42" fill="#151515" stroke="#151515" stroke-width="0.2" textLength="36.5" lengthAdjust="spacingAndGlyphs">TILE FINISH</text>
<text x="201.5" y="325.6" font-size="6.98" fill="#151515" stroke="#151515" stroke-width="0.2" textLength="53.5" lengthAdjust="spacingAndGlyphs">SOG/B + J JOINT</text>
<text x="352" y="168" font-size="6.98" font-weight="700" fill="#151515" stroke="#151515" stroke-width="0.32" textLength="13" lengthAdjust="spacingAndGlyphs">1000</text>
<text x="352.7" y="181.7" font-size="8.1" fill="#151515" stroke="#151515" stroke-width="0.2" textLength="16.05" lengthAdjust="spacingAndGlyphs">1500</text>
<text x="333" y="197.6" font-size="7.82" fill="#151515" stroke="#151515" stroke-width="0.2" textLength="8" lengthAdjust="spacingAndGlyphs">70</text>
<text x="353.75" y="197.6" font-size="7.82" fill="#151515" stroke="#151515" stroke-width="0.2" textLength="15.75" lengthAdjust="spacingAndGlyphs">1430</text>
<text x="445.5" y="90" font-size="7.4" font-weight="700" fill="#151515" stroke="#151515" stroke-width="0.32" textLength="70.5" lengthAdjust="spacingAndGlyphs">2150 PANELIFT DOOR</text>
<text x="458.5" y="165.5" font-size="12.85" font-weight="700" fill="#151515" stroke="#151515" stroke-width="0.32" textLength="48.0" lengthAdjust="spacingAndGlyphs">GARAGE</text>
<text x="454.5" y="173.8" font-size="6.98" fill="#151515" stroke="#151515" stroke-width="0.2" textLength="57.5" lengthAdjust="spacingAndGlyphs">CONCRETE FINISH</text>
<text x="462.5" y="182.9" font-size="7.12" fill="#151515" stroke="#151515" stroke-width="0.2" textLength="42.0" lengthAdjust="spacingAndGlyphs">FFL RL: 28.95</text>
<text x="436.5" y="208.9" font-size="7.12" fill="#151515" stroke="#151515" stroke-width="0.2" textLength="93.0" lengthAdjust="spacingAndGlyphs">ENGAGED PIER CENTRES TO</text>
<text x="436.5" y="216.8" font-size="7.12" fill="#151515" stroke="#151515" stroke-width="0.2" textLength="116.0" lengthAdjust="spacingAndGlyphs">COMPLY WITH BCA REQUIREMENTS</text>
<text x="436.5" y="224.9" font-size="7.12" fill="#151515" stroke="#151515" stroke-width="0.2" textLength="63.5" lengthAdjust="spacingAndGlyphs">AND AS 4773.1-2010</text>
<text x="403" y="253.5" font-size="6.28" fill="#444" stroke="#444" stroke-width="0.2" textLength="9.5" lengthAdjust="spacingAndGlyphs">MH</text>
<text x="599" y="79" font-size="8.8" fill="#151515" stroke="#151515" stroke-width="0.2" textLength="19" lengthAdjust="spacingAndGlyphs">GTAP</text>
<text x="589" y="85.6" font-size="6.42" fill="#151515" stroke="#151515" stroke-width="0.2" textLength="7" lengthAdjust="spacingAndGlyphs">DP</text>
<text x="591" y="132.7" font-size="6.56" fill="#151515" stroke="#151515" stroke-width="0.2" textLength="39" lengthAdjust="spacingAndGlyphs">METER BOX</text>
<text x="368" y="317.7" font-size="6.56" fill="#151515" stroke="#151515" stroke-width="0.2" textLength="12.5" lengthAdjust="spacingAndGlyphs">PTY</text>
<text x="368" y="342.7" font-size="6.56" fill="#151515" stroke="#151515" stroke-width="0.2" textLength="13" lengthAdjust="spacingAndGlyphs">REF</text>
<text x="366" y="366.3" font-size="6.56" fill="#151515" stroke="#151515" stroke-width="0.2" textLength="18.75" lengthAdjust="spacingAndGlyphs">LINEN</text>
<text x="357.75" y="380.5" font-size="6.84" font-weight="700" fill="#151515" stroke="#151515" stroke-width="0.32" textLength="33.75" lengthAdjust="spacingAndGlyphs">2 X 820 QS</text>
<text x="370.2" y="401.8" font-size="6.84" font-weight="700" fill="#151515" stroke="#151515" stroke-width="0.32" textLength="34.05" lengthAdjust="spacingAndGlyphs">2 X 820 QS</text>
<text x="379.2" y="419.8" font-size="6.7" fill="#151515" stroke="#151515" stroke-width="0.2" textLength="17.55" lengthAdjust="spacingAndGlyphs">LINEN</text>
<text x="447" y="312.7" font-size="12.57" font-weight="700" fill="#151515" stroke="#151515" stroke-width="0.32" textLength="32.5" lengthAdjust="spacingAndGlyphs">BED 3</text>
<text x="436.25" y="318.8" font-size="6.84" fill="#151515" stroke="#151515" stroke-width="0.2" textLength="50.0" lengthAdjust="spacingAndGlyphs">CARPET FINISH</text>
<text x="415.75" y="369.5" font-size="6.84" fill="#151515" stroke="#151515" stroke-width="0.2" textLength="11.25" lengthAdjust="spacingAndGlyphs">820</text>
<text x="428.2" y="417.2" font-size="6.84" fill="#151515" stroke="#151515" stroke-width="0.2" textLength="11.1" lengthAdjust="spacingAndGlyphs">820</text>
<text x="468.2" y="398.3" font-size="12.15" font-weight="700" fill="#151515" stroke="#151515" stroke-width="0.32" textLength="31.3" lengthAdjust="spacingAndGlyphs">L'DRY</text>
<text x="501.5" y="416.3" font-size="6.7" fill="#151515" stroke="#151515" stroke-width="0.2" textLength="11.3" lengthAdjust="spacingAndGlyphs">WM</text>
<text x="541.5" y="287" font-size="6.56" fill="#151515" stroke="#151515" stroke-width="0.2" textLength="8.0" lengthAdjust="spacingAndGlyphs">DP</text>
<text x="586" y="317.6" font-size="6.98" fill="#151515" stroke="#151515" stroke-width="0.2" textLength="50" lengthAdjust="spacingAndGlyphs">TIMBER STAIRS</text>
<text x="586" y="325.1" font-size="6.98" fill="#151515" stroke="#151515" stroke-width="0.2" textLength="44.5" lengthAdjust="spacingAndGlyphs">AND LANDING</text>
<text x="586" y="332.6" font-size="6.98" fill="#151515" stroke="#151515" stroke-width="0.2" textLength="48" lengthAdjust="spacingAndGlyphs">DOWN TO NGL</text>
<text x="590.5" y="372" font-size="6.98" fill="#151515" stroke="#151515" stroke-width="0.2" textLength="42.0" lengthAdjust="spacingAndGlyphs">FFL RL: 29.00</text>
<text x="592" y="396.2" font-size="6.98" fill="#151515" stroke="#151515" stroke-width="0.2" textLength="37" lengthAdjust="spacingAndGlyphs">50mm STEP</text>
<text x="592" y="403.8" font-size="6.98" fill="#151515" stroke="#151515" stroke-width="0.2" textLength="28" lengthAdjust="spacingAndGlyphs">DOWN TO</text>
<text x="592" y="410.8" font-size="6.98" fill="#151515" stroke="#151515" stroke-width="0.2" textLength="29" lengthAdjust="spacingAndGlyphs">LANDING</text>
<text x="538.75" y="448.8" font-size="6.98" fill="#151515" stroke="#151515" stroke-width="0.2" textLength="25.0" lengthAdjust="spacingAndGlyphs">DRYING</text>
<text x="538.75" y="456.3" font-size="6.98" fill="#151515" stroke="#151515" stroke-width="0.2" textLength="17.5" lengthAdjust="spacingAndGlyphs">AREA</text>
<text x="534.5" y="513.8" font-size="6.98" fill="#151515" stroke="#151515" stroke-width="0.2" textLength="58.0" lengthAdjust="spacingAndGlyphs">SOALR (ELECTRIC</text>
<text x="534.5" y="521.3" font-size="6.98" fill="#151515" stroke="#151515" stroke-width="0.2" textLength="49.25" lengthAdjust="spacingAndGlyphs">BOOSTED) HWS</text>
<text x="531.5" y="529.5" font-size="6.7" fill="#151515" stroke="#151515" stroke-width="0.2" textLength="7.5" lengthAdjust="spacingAndGlyphs">DP</text>
<text x="453.75" y="471.3" font-size="11.87" font-weight="700" fill="#151515" stroke="#151515" stroke-width="0.32" textLength="30.0" lengthAdjust="spacingAndGlyphs">BED 2</text>
<text x="444.5" y="477.6" font-size="6.7" fill="#151515" stroke="#151515" stroke-width="0.2" textLength="50.0" lengthAdjust="spacingAndGlyphs">CARPET FINISH</text>
<text x="188" y="372.4" font-size="7.12" font-weight="700" fill="#151515" stroke="#151515" stroke-width="0.32" textLength="18" lengthAdjust="spacingAndGlyphs">900 V</text>
<text x="185" y="387" font-size="11.17" font-weight="700" fill="#151515" stroke="#151515" stroke-width="0.32" textLength="21.5" lengthAdjust="spacingAndGlyphs">ENS</text>
<text x="219.5" y="380" font-size="6.42" fill="#151515" stroke="#151515" stroke-width="0.2" textLength="19.25" lengthAdjust="spacingAndGlyphs">SHWR</text>
<text x="164" y="398.9" font-size="5.87" fill="#151515" stroke="#151515" stroke-width="0.2" textLength="12" lengthAdjust="spacingAndGlyphs">DTR</text>
<text x="185" y="409.6" font-size="6.98" font-weight="700" fill="#151515" stroke="#151515" stroke-width="0.32" textLength="23.75" lengthAdjust="spacingAndGlyphs">820 C/S</text>
<text x="265.2" y="374.8" font-size="11.45" font-weight="700" fill="#151515" stroke="#151515" stroke-width="0.32" textLength="21.5" lengthAdjust="spacingAndGlyphs">WIR</text>
<text x="251.25" y="383.1" font-size="6.56" fill="#151515" stroke="#151515" stroke-width="0.2" textLength="49.5" lengthAdjust="spacingAndGlyphs">CARPET FINISH</text>
<text x="250.5" y="409.6" font-size="6.77" font-weight="700" fill="#151515" stroke="#151515" stroke-width="0.32" textLength="23.25" lengthAdjust="spacingAndGlyphs">720 C/S</text>
<text x="298.9" y="430.6" font-size="6.56" fill="#151515" stroke="#151515" stroke-width="0.2" textLength="12.6" lengthAdjust="spacingAndGlyphs">LOH</text>
<text x="303.1" y="446" font-size="6.84" fill="#151515" stroke="#151515" stroke-width="0.2" textLength="10.15" lengthAdjust="spacingAndGlyphs">770</text>
<text x="336" y="446" font-size="6.84" fill="#151515" stroke="#151515" stroke-width="0.2" textLength="10.85" lengthAdjust="spacingAndGlyphs">770</text>
<text x="377.1" y="441.5" font-size="6.98" fill="#151515" stroke="#151515" stroke-width="0.2" textLength="19.8" lengthAdjust="spacingAndGlyphs">SHWR</text>
<text x="347.4" y="513.9" font-size="7.33" fill="#151515" stroke="#151515" stroke-width="0.2" textLength="32.35" lengthAdjust="spacingAndGlyphs">1650 BATH</text>
<text x="208.75" y="460" font-size="12.57" font-weight="700" fill="#151515" stroke="#151515" stroke-width="0.32" textLength="30.75" lengthAdjust="spacingAndGlyphs">BED 1</text>
<text x="197.5" y="469.2" font-size="6.7" fill="#151515" stroke="#151515" stroke-width="0.2" textLength="51.25" lengthAdjust="spacingAndGlyphs">CARPET FINISH</text>
<text x="217" y="541" font-size="6.98" font-weight="700" fill="#151515" stroke="#151515" stroke-width="0.32" textLength="13.5" lengthAdjust="spacingAndGlyphs">1818</text>
<text x="300" y="542.4" font-size="7.26" font-weight="700" fill="#151515" stroke="#151515" stroke-width="0.32" textLength="15" lengthAdjust="spacingAndGlyphs">0906</text>
<text x="353.75" y="542.4" font-size="7.26" font-weight="700" fill="#151515" stroke="#151515" stroke-width="0.32" textLength="13.75" lengthAdjust="spacingAndGlyphs">1212</text>
<text x="134.7" y="533.5" font-size="6.98" fill="#151515" stroke="#151515" stroke-width="0.2" textLength="9.1" lengthAdjust="spacingAndGlyphs">DP</text>
<text x="134.2" y="50.2" font-size="7.26" fill="#151515" stroke="#151515" stroke-width="0.2" textLength="10.3" lengthAdjust="spacingAndGlyphs">DP</text>
<text x="101.25" y="353.2" font-size="6.56" fill="#151515" stroke="#151515" stroke-width="0.2" textLength="41.25" lengthAdjust="spacingAndGlyphs">CTIVE FOIL &amp;</text>
<text x="100" y="360.6" font-size="6.56" fill="#151515" stroke="#151515" stroke-width="0.2" textLength="45" lengthAdjust="spacingAndGlyphs">ISULATION TO</text>
<text x="100" y="367.9" font-size="6.56" fill="#151515" stroke="#151515" stroke-width="0.2" textLength="38" lengthAdjust="spacingAndGlyphs">NAL WALLS</text>
<text x="154.5" y="561.7" font-size="6.98" fill="#151515" stroke="#151515" stroke-width="0.2" textLength="246.5" lengthAdjust="spacingAndGlyphs">RETAINING WALL ON BOUNDARY WITH 1800mm HIGH TIMBER FENCE ABOVE</text>
<text x="542" y="561.8" font-size="6.98" fill="#151515" stroke="#151515" stroke-width="0.2" textLength="93.5" lengthAdjust="spacingAndGlyphs">HANDRAIL HEIGHT TO BE NO</text>
<text transform="translate(146.9,102.5) rotate(-90)" font-size="7.68" fill="#151515" stroke="#151515" stroke-width="0.2" textLength="38.5" lengthAdjust="spacingAndGlyphs">BEAM OVER</text>
<text transform="translate(119.4,52) rotate(-90)" font-size="7.82" fill="#151515" stroke="#151515" stroke-width="0.2" textLength="11" lengthAdjust="spacingAndGlyphs">350</text>
<text transform="translate(119.4,93.4) rotate(-90)" font-size="7.82" fill="#151515" stroke="#151515" stroke-width="0.2" textLength="15.6" lengthAdjust="spacingAndGlyphs">2050</text>
<text transform="translate(103.6,89) rotate(-90)" font-size="9.5" fill="#151515" stroke="#151515" stroke-width="0.2" textLength="18" lengthAdjust="spacingAndGlyphs">2400</text>
<text transform="translate(144.6,184) rotate(-90)" font-size="5.73" font-weight="700" fill="#151515" stroke="#151515" stroke-width="0.32" textLength="14" lengthAdjust="spacingAndGlyphs">1818</text>
<text transform="translate(144.6,271) rotate(-90)" font-size="5.73" font-weight="700" fill="#151515" stroke="#151515" stroke-width="0.32" textLength="13.5" lengthAdjust="spacingAndGlyphs">1818</text>
<text transform="translate(144.6,381.5) rotate(-90)" font-size="6.15" font-weight="700" fill="#151515" stroke="#151515" stroke-width="0.32" textLength="14.0" lengthAdjust="spacingAndGlyphs">0912</text>
<text transform="translate(143.1,472) rotate(-90)" font-size="6.7" font-weight="700" fill="#151515" stroke="#151515" stroke-width="0.32" textLength="14.5" lengthAdjust="spacingAndGlyphs">0624</text>
<text transform="translate(162,379.25) rotate(-90)" font-size="6.56" fill="#151515" stroke="#151515" stroke-width="0.2" textLength="12.75" lengthAdjust="spacingAndGlyphs">TRH</text>
<text transform="translate(432.1,68.2) rotate(-90)" font-size="8.52" fill="#151515" stroke="#151515" stroke-width="0.2" textLength="27.4" lengthAdjust="spacingAndGlyphs">570 350</text>
<text transform="translate(453,62.5) rotate(-90)" font-size="7.68" fill="#151515" stroke="#151515" stroke-width="0.2" textLength="12.5" lengthAdjust="spacingAndGlyphs">920</text>
<text transform="translate(592.6,109) rotate(-90)" font-size="6.42" font-weight="700" fill="#151515" stroke="#151515" stroke-width="0.32" textLength="18" lengthAdjust="spacingAndGlyphs">1607F</text>
<text transform="translate(399.4,208) rotate(-90)" font-size="6.42" font-weight="700" fill="#151515" stroke="#151515" stroke-width="0.32" textLength="23.25" lengthAdjust="spacingAndGlyphs">820 C/S</text>
<text transform="translate(408.3,240) rotate(-90)" font-size="7.96" fill="#151515" stroke="#151515" stroke-width="0.2" textLength="104.75" lengthAdjust="spacingAndGlyphs">100mm STEP DOWN TO GARAGE</text>
<text transform="translate(305,217.5) rotate(-90)" font-size="6.98" fill="#151515" stroke="#151515" stroke-width="0.2" textLength="10.0" lengthAdjust="spacingAndGlyphs">270</text>
<text transform="translate(318.75,230) rotate(-90)" font-size="6.98" fill="#151515" stroke="#151515" stroke-width="0.2" textLength="31.25" lengthAdjust="spacingAndGlyphs">70 130 70</text>
<text transform="translate(397,324) rotate(-90)" font-size="6.98" fill="#151515" stroke="#151515" stroke-width="0.2" textLength="18" lengthAdjust="spacingAndGlyphs">ROBE</text>
<text transform="translate(415.2,330) rotate(-90)" font-size="6.15" font-weight="700" fill="#151515" stroke="#151515" stroke-width="0.32" textLength="34" lengthAdjust="spacingAndGlyphs">3 X 820 QS</text>
<text transform="translate(532,312.5) rotate(-90)" font-size="6.01" font-weight="700" fill="#151515" stroke="#151515" stroke-width="0.32" textLength="13.75" lengthAdjust="spacingAndGlyphs">1218</text>
<text transform="translate(535.2,419.7) rotate(-90)" font-size="6.84" font-weight="700" fill="#151515" stroke="#151515" stroke-width="0.32" textLength="14.2" lengthAdjust="spacingAndGlyphs">0906</text>
<text transform="translate(535,483) rotate(-90)" font-size="6.01" font-weight="700" fill="#151515" stroke="#151515" stroke-width="0.32" textLength="14.25" lengthAdjust="spacingAndGlyphs">1218</text>
<text transform="translate(458.8,393.5) rotate(-90)" font-size="6.7" fill="#151515" stroke="#151515" stroke-width="0.2" textLength="11.3" lengthAdjust="spacingAndGlyphs">770</text>
<text transform="translate(514.8,393.5) rotate(-90)" font-size="6.7" fill="#151515" stroke="#151515" stroke-width="0.2" textLength="11.3" lengthAdjust="spacingAndGlyphs">820</text>
<text transform="translate(288.3,425) rotate(-90)" font-size="6.7" fill="#151515" stroke="#151515" stroke-width="0.2" textLength="11.25" lengthAdjust="spacingAndGlyphs">770</text>
<text transform="translate(320.6,498.2) rotate(-90)" font-size="6.56" fill="#151515" stroke="#151515" stroke-width="0.2" textLength="12.8" lengthAdjust="spacingAndGlyphs">TRH</text>
<text transform="translate(334,488.9) rotate(-90)" font-size="6.28" fill="#151515" stroke="#151515" stroke-width="0.2" textLength="12.8" lengthAdjust="spacingAndGlyphs">DTR</text>
<text transform="translate(375.9,486.25) rotate(-90)" font-size="6.42" font-weight="700" fill="#151515" stroke="#151515" stroke-width="0.32" textLength="19.25" lengthAdjust="spacingAndGlyphs">1200 V</text>
<text transform="translate(409.1,501.1) rotate(-90)" font-size="7.26" fill="#151515" stroke="#151515" stroke-width="0.2" textLength="17.5" lengthAdjust="spacingAndGlyphs">ROBE</text>
<text transform="translate(425,509) rotate(-90)" font-size="6.56" font-weight="700" fill="#151515" stroke="#151515" stroke-width="0.32" textLength="33.5" lengthAdjust="spacingAndGlyphs">2 X 820 QS</text>
<text transform="translate(420,556) rotate(-90)" font-size="6.98" fill="#151515" stroke="#151515" stroke-width="0.2" textLength="12" lengthAdjust="spacingAndGlyphs">TAP</text>
</g>
</svg>
</body></html>
